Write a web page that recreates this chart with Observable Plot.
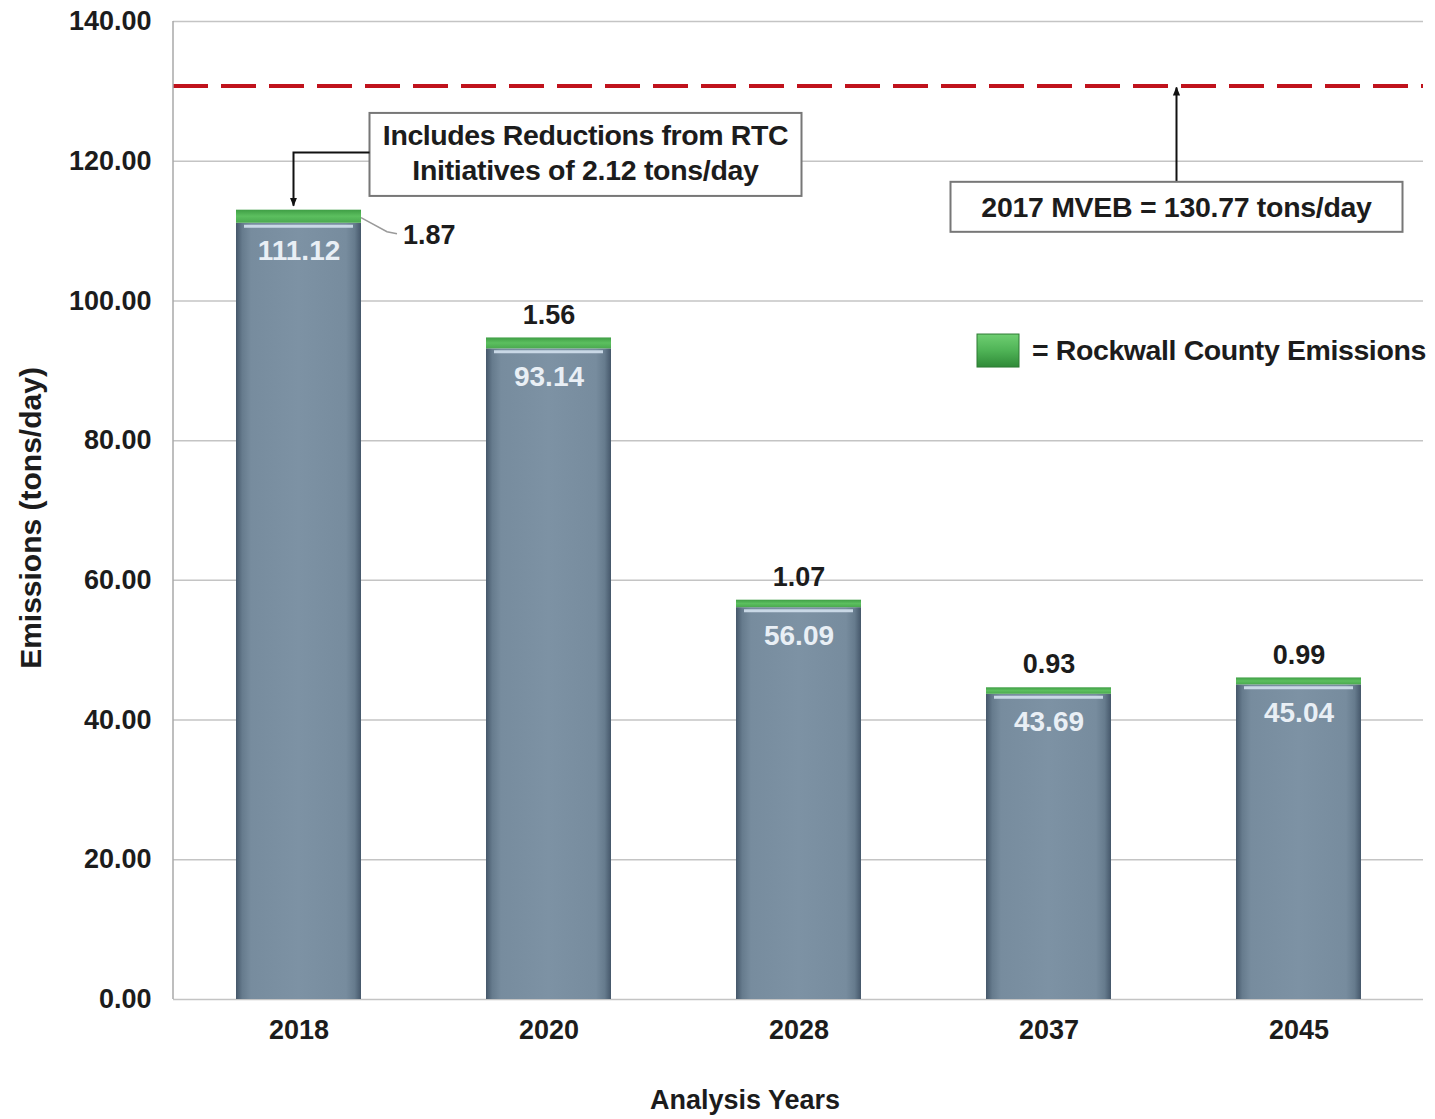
<!DOCTYPE html>
<html>
<head>
<meta charset="utf-8">
<script src="https://cdn.jsdelivr.net/npm/d3@7"></script>
<script src="https://cdn.jsdelivr.net/npm/@observablehq/plot@0.6"></script>
<style>
  body { margin: 0; background: #fff; }
  #chart svg { display: block; }
</style>
</head>
<body>
<svg width="0" height="0" style="position:absolute">
  <defs>
    <linearGradient id="gBase" x1="0" x2="1" y1="0" y2="0">
      <stop offset="0" stop-color="#45576a"/>
      <stop offset="0.05" stop-color="#667b8d"/>
      <stop offset="0.12" stop-color="#778c9e"/>
      <stop offset="0.5" stop-color="#7d92a4"/>
      <stop offset="0.88" stop-color="#778c9e"/>
      <stop offset="0.95" stop-color="#667b8d"/>
      <stop offset="1" stop-color="#45576a"/>
    </linearGradient>
    <linearGradient id="gGreen" x1="0" x2="0" y1="0" y2="1">
      <stop offset="0" stop-color="#3f9e45"/>
      <stop offset="0.5" stop-color="#5cbf5f"/>
      <stop offset="1" stop-color="#4aa94f"/>
    </linearGradient>
    <linearGradient id="gLegend" x1="0" x2="0" y1="0" y2="1">
      <stop offset="0" stop-color="#6fcf72"/>
      <stop offset="0.5" stop-color="#4fb356"/>
      <stop offset="1" stop-color="#2f8a38"/>
    </linearGradient>
    <marker id="arrowHead" viewBox="0 0 10 10" refX="9" refY="5" markerWidth="9" markerHeight="9" orient="auto-start-reverse" markerUnits="userSpaceOnUse">
      <path d="M0,1 L10,5 L0,9 z" fill="#111"/>
    </marker>
  </defs>
</svg>
<div id="chart"></div>
<script>
// ---- data ----
const years = ["2018", "2020", "2028", "2037", "2045"];
const baseValues = [111.12, 93.14, 56.09, 43.69, 45.04];
const rockwallValues = [1.87, 1.56, 1.07, 0.93, 0.99];
const yTicks = [0, 20, 40, 60, 80, 100, 120, 140];
const mvebValue = 130.77;
const mvebLabel = "2017 MVEB = 130.77 tons/day";
const noteLines = ["Includes Reductions from RTC", "Initiatives of 2.12 tons/day"];
const legendLabel = "= Rockwall County Emissions";
const yLabel = "Emissions (tons/day)";
const xLabel = "Analysis Years";

const rows = years.map((year, i) => ({
  year,
  base: baseValues[i],
  rockwall: rockwallValues[i],
  total: baseValues[i] + rockwallValues[i]
}));

const FONT = "'Liberation Sans', Arial, sans-serif";
const INK = "#1c1c1c";
const W = 1435, H = 1119;
const NOTE_SIZE = 28.5;

const chart = Plot.plot({
  width: W,
  height: H,
  marginLeft: 173,
  marginRight: 12,
  marginTop: 21,
  marginBottom: 120,
  style: { fontFamily: FONT, fontWeight: "bold", fontSize: "27px", color: INK, background: "#fff" },
  x: { type: "band", domain: years, paddingInner: 0.5, paddingOuter: 0.25, label: null },
  y: { domain: [0, 140], label: null },
  marks: [
    Plot.ruleY(yTicks, { stroke: "#c4c4c4", strokeWidth: 1.5 }),
    Plot.axisY({ ticks: yTicks, tickFormat: d3.format(".2f"), tickSize: 0, tickPadding: 22, fontSize: 27, fontWeight: "bold", label: null }),
    Plot.axisX({ tickSize: 0, tickPadding: 20, fontSize: 27, fontWeight: "bold", label: null }),
    Plot.barY(rows, { x: "year", y1: 0, y2: "base", fill: "url(#gBase)" }),
    Plot.barY(rows, { x: "year", y1: "base", y2: "total", fill: "url(#gGreen)" }),
    Plot.tickY(rows, { x: "year", y: "base", dy: 3, stroke: "#c9d8e6", strokeWidth: 3, insetLeft: 8, insetRight: 8 }),
    Plot.text(rows, { x: "year", y: "base", text: d => d.base.toFixed(2), dy: 28, fill: "#e9eff5", fontSize: 28, fontWeight: "bold" }),
    Plot.text(rows.slice(1), { x: "year", y: "total", text: d => d.rockwall.toFixed(2), dy: -23, fill: INK, fontSize: 27, fontWeight: "bold" }),
    Plot.text(rows.slice(0, 1), { x: "year", y: "total", text: d => d.rockwall.toFixed(2), dx: 104, dy: 25, textAnchor: "start", fill: INK, fontSize: 27, fontWeight: "bold" }),
    Plot.ruleY([mvebValue], { stroke: "#c0121c", strokeWidth: 4, strokeDasharray: "35,13" })
  ]
});

document.getElementById("chart").appendChild(chart);

// ---- annotations using the plot's own scales ----
const xs = chart.scale("x"), ys = chart.scale("y");
const bw = xs.bandwidth;
const cx = v => xs.apply(v) + bw / 2;
const Y = v => ys.apply(v);
const svg = d3.select(chart);
const g = svg.append("g").attr("font-family", FONT).attr("font-weight", "bold").attr("fill", INK);

// left axis line
g.append("line")
  .attr("x1", xs.range[0]).attr("x2", xs.range[0])
  .attr("y1", Y(0)).attr("y2", Y(140))
  .attr("stroke", "#a8a8a8").attr("stroke-width", 1.5);

// leader line for 2018 rockwall label
{
  const r = rows[0];
  const R = cx(r.year) + bw / 2, T = Y(r.total);
  g.append("path")
    .attr("d", `M${R},${T + 8} L${R + 26},${T + 22} L${R + 36},${T + 24}`)
    .attr("fill", "none").attr("stroke", "#9a9a9a").attr("stroke-width", 1.5);
}

// note box (RTC initiatives)
{
  const bx = cx("2020") + 37, by = Y(120.9);
  const bwid = 432, bh = 83;
  g.append("rect")
    .attr("x", bx - bwid / 2).attr("y", by - bh / 2)
    .attr("width", bwid).attr("height", bh)
    .attr("fill", "#fff").attr("stroke", "#777").attr("stroke-width", 2);
  g.append("text").attr("x", bx).attr("y", by - 19).attr("dy", "0.35em")
    .attr("text-anchor", "middle").attr("font-size", NOTE_SIZE).attr("letter-spacing", "-0.4")
    .text(noteLines[0]);
  g.append("text").attr("x", bx).attr("y", by + 16).attr("dy", "0.35em")
    .attr("text-anchor", "middle").attr("font-size", NOTE_SIZE).attr("letter-spacing", "-0.3")
    .text(noteLines[1]);
  const ax = cx("2018") - 5;
  g.append("path")
    .attr("d", `M${bx - bwid / 2},${by - 2} H${ax} V${Y(rows[0].total) - 4}`)
    .attr("fill", "none").attr("stroke", "#111").attr("stroke-width", 2)
    .attr("marker-end", "url(#arrowHead)");
}

// MVEB box
{
  const bx = (cx("2037") + cx("2045")) / 2 + 3, by = Y(113.4);
  const bwid = 452, bh = 50;
  g.append("path")
    .attr("d", `M${bx},${by - bh / 2} V${Y(mvebValue) + 2}`)
    .attr("fill", "none").attr("stroke", "#111").attr("stroke-width", 2)
    .attr("marker-end", "url(#arrowHead)");
  g.append("rect")
    .attr("x", bx - bwid / 2).attr("y", by - bh / 2)
    .attr("width", bwid).attr("height", bh)
    .attr("fill", "#fff").attr("stroke", "#777").attr("stroke-width", 2);
  g.append("text").attr("x", bx).attr("y", by).attr("dy", "0.35em")
    .attr("text-anchor", "middle").attr("font-size", NOTE_SIZE).attr("letter-spacing", "-0.3")
    .text(mvebLabel);
}

// legend
{
  const right = xs.range[1];
  const ly = Y(92.9);
  g.append("rect")
    .attr("x", right - 446).attr("y", ly - 16).attr("width", 42).attr("height", 33)
    .attr("fill", "url(#gLegend)").attr("stroke", "#2d7a33").attr("stroke-width", 1);
  g.append("text").attr("x", right - 391).attr("y", ly).attr("dy", "0.35em")
    .attr("text-anchor", "start")
    .attr("font-size", NOTE_SIZE).attr("letter-spacing", "-0.4")
    .text(legendLabel);
}

// axis titles
g.append("text")
  .attr("transform", `translate(30,${(Y(0) + Y(140)) / 2 + 8}) rotate(-90)`)
  .attr("text-anchor", "middle").attr("dy", "0.35em").attr("font-size", 30)
  .text(yLabel);
g.append("text")
  .attr("x", (xs.range[0] + xs.range[1]) / 2 - 53).attr("y", 1100).attr("dy", "0.35em")
  .attr("text-anchor", "middle").attr("font-size", 27)
  .text(xLabel);
</script>
</body>
</html>
